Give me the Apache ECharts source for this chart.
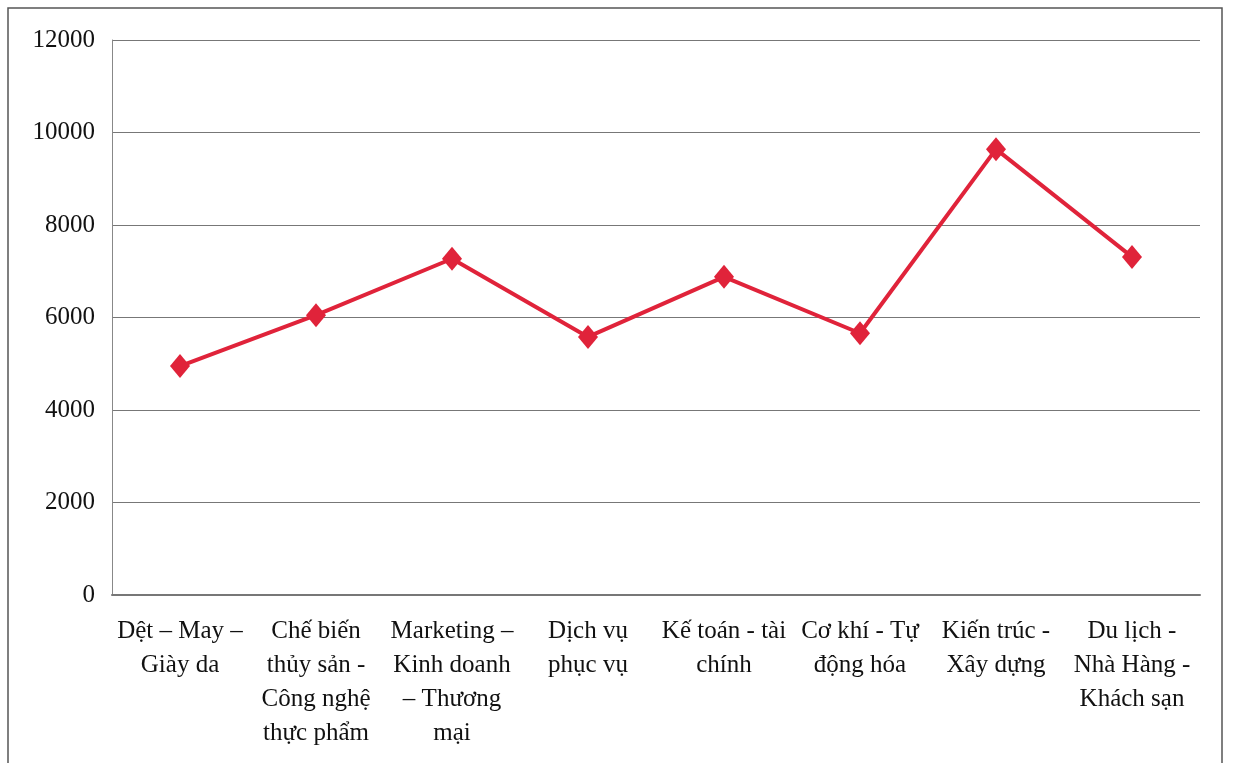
<!DOCTYPE html>
<html>
<head>
<meta charset="utf-8">
<script src="https://cdn.jsdelivr.net/npm/echarts@6/dist/echarts.min.js"></script>
<style>
html,body{margin:0;padding:0;background:#fff;}
#chart{width:1233px;height:763px;}
</style>
</head>
<body>
<div id="chart"></div>
<script>
var categories = [
  "Dệt – May –\nGiày da",
  "Chế biến\nthủy sản -\nCông nghệ\nthực phẩm",
  "Marketing –\nKinh doanh\n– Thương\nmại",
  "Dịch vụ\nphục vụ",
  "Kế toán - tài\nchính",
  "Cơ khí - Tự\nđộng hóa",
  "Kiến trúc -\nXây dựng",
  "Du lịch -\nNhà Hàng -\nKhách sạn"
];
var values = [4950, 6050, 7270, 5580, 6880, 5660, 9640, 7310];
var yTicks = [0, 2000, 4000, 6000, 8000, 10000, 12000];

var chart = echarts.init(document.getElementById('chart'));
var font = "'Liberation Serif', 'Times New Roman', serif";
chart.setOption({
  animation: false,
  backgroundColor: '#fff',
  graphic: [{
    type: 'rect',
    shape: {x: 8, y: 8, width: 1214, height: 800},
    style: {fill: 'none', stroke: '#555', lineWidth: 1.5},
    silent: true
  }],
  grid: {left: 112, right: 33, top: 40, bottom: 168, containLabel: false},
  xAxis: {
    type: 'category',
    data: categories,
    boundaryGap: true,
    axisLine: {show: true, lineStyle: {color: '#777', width: 2}},
    axisTick: {show: false},
    axisLabel: {
      interval: 0,
      color: '#111',
      fontFamily: font,
      fontSize: 25,
      lineHeight: 34,
      margin: 19,
      align: 'center'
    }
  },
  yAxis: {
    type: 'value',
    min: yTicks[0],
    max: yTicks[yTicks.length - 1],
    interval: 2000,
    axisLine: {show: true, lineStyle: {color: '#888', width: 1}},
    axisTick: {show: false},
    splitLine: {show: true, lineStyle: {color: '#777', width: 1}},
    axisLabel: {
      color: '#111',
      fontFamily: font,
      fontSize: 25,
      margin: 17,
      formatter: function (v) { return String(v); }
    }
  },
  series: [{
    type: 'line',
    data: values,
    symbol: 'diamond',
    symbolSize: [20, 24],
    lineStyle: {color: '#e0233a', width: 4},
    itemStyle: {color: '#e0233a'}
  }]
});
</script>
</body>
</html>
